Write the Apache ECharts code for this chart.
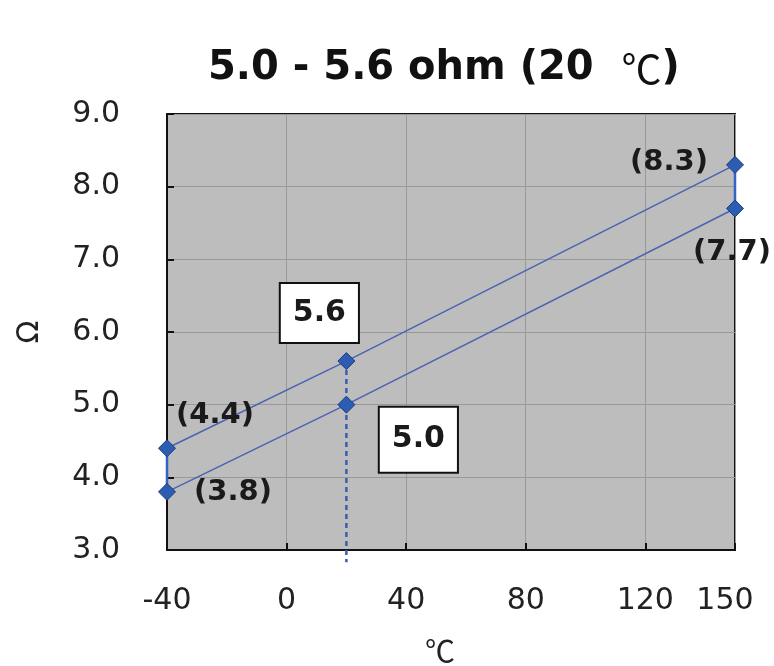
<!DOCTYPE html>
<html>
<head>
<meta charset="utf-8">
<title>5.0 - 5.6 ohm (20 ℃)</title>
<script src="https://cdn.jsdelivr.net/npm/echarts@6/dist/echarts.min.js"></script>
<style>
  html, body { margin: 0; padding: 0; background: #fff; }
  #content { width: 774px; height: 666px; }
</style>
</head>
<body>
<div id="content"></div>
<script>
// 数据
var temps = [-40, 20, 150];
var upperOhm = [4.4, 5.6, 8.3];
var lowerOhm = [3.8, 5.0, 7.7];
var upperLabels = ["(4.4)", "5.6", "(8.3)"];
var lowerLabels = ["(3.8)", "5.0", "(7.7)"];
var refTemp = 20;
var dashBottom = 2.83; // 虚线伸出到坐标轴下方
var xMin = -40, xMax = 150, xStep = 40;
var yMin = 3, yMax = 9, yStep = 1;

var font = "DejaVu Sans";
var lineColor = "#4a63b3";

// 标签的位置（相对数据点中心的偏移）
var upperOffsets = [[48, -33], [-27, -48], [-66, -2]];
var lowerOffsets = [[66, 1], [72, 35], [-3, 44]];

function plainLabel(text, offset) {
    return {
        show: true,
        position: "inside",
        offset: offset,
        formatter: text,
        fontFamily: font,
        fontSize: 29,
        fontWeight: "bold",
        color: "#1a1a1a",
    };
}

function boxLabel(text, offset, padV) {
    var l = plainLabel(text, offset);
    l.fontSize = 30;
    l.backgroundColor = "#fff";
    l.borderColor = "#111";
    l.borderWidth = 2;
    l.padding = [padV, 12, padV, 12];
    return l;
}

function buildPoints(vals, labels, offsets) {
    return temps.map(function(t, i) {
        var label = t == refTemp
            ? boxLabel(labels[i], offsets[i], vals === upperOhm ? 14 : 17)
            : plainLabel(labels[i], offsets[i]);
        return { value: [t, vals[i]], label: label };
    });
}

var markerStyle = {
    color: "#2d5db2",
    borderColor: "#1b3c7c",
    borderWidth: 1,
};

var series = [];
// 两端的竖线
[0, temps.length - 1].forEach(function(i) {
    series.push({
        type: "line",
        data: [[temps[i], lowerOhm[i]], [temps[i], upperOhm[i]]],
        symbol: "none",
        lineStyle: { color: "#3563c4", width: 2.5 },
        silent: true,
        z: 3,
    });
});
// 20℃ 的虚线
var refIdx = temps.indexOf(refTemp);
series.push({
    type: "line",
    data: [[refTemp, upperOhm[refIdx]], [refTemp, dashBottom]],
    symbol: "none",
    clip: false,
    lineStyle: { color: "#3a5db4", width: 2.5, type: [5, 4] },
    silent: true,
    z: 3,
});
// 上下两条线
series.push({
    type: "line",
    data: buildPoints(upperOhm, upperLabels, upperOffsets),
    symbol: "diamond",
    symbolSize: 17,
    itemStyle: markerStyle,
    lineStyle: { color: lineColor, width: 1.5 },
    z: 4,
});
series.push({
    type: "line",
    data: buildPoints(lowerOhm, lowerLabels, lowerOffsets),
    symbol: "diamond",
    symbolSize: 17,
    itemStyle: markerStyle,
    lineStyle: { color: lineColor, width: 1.5 },
    z: 4,
});

var myChart = echarts.init(document.getElementById("content"));
myChart.setOption({
    animation: false,
    title: {
        text: "5.0 - 5.6 ohm (20  {c|℃})",
        left: 203,
        top: 44,
        textStyle: {
            fontFamily: font,
            fontSize: 40,
            fontWeight: "bold",
            color: "#111",
            rich: {
                c: {
                    fontFamily: "Noto Sans CJK JP",
                    fontSize: 40,
                    fontWeight: "normal",
                    color: "#111",
                },
            },
        },
    },
    grid: {
        left: 167,
        right: 39,
        top: 114,
        bottom: 116,
        show: true,
        backgroundColor: "#bdbdbd",
        borderColor: "#111",
        borderWidth: 2,
        outerBoundsMode: "none",
    },
    xAxis: {
        type: "value",
        min: xMin,
        max: xMax,
        interval: xStep,
        name: "℃",
        nameLocation: "middle",
        nameGap: 86,
        nameTextStyle: {
            fontFamily: "Noto Sans CJK JP",
            fontSize: 30,
            color: "#222",
            padding: [0, 22, 0, 0],
        },
        axisLine: { show: true, onZero: false, lineStyle: { color: "#111", width: 2 } },
        axisTick: { show: true, inside: true, length: 7, lineStyle: { color: "#111", width: 2 } },
        axisLabel: {
            margin: 36,
            fontFamily: font,
            fontSize: 30,
            color: "#222",
            formatter: function(v) {
                return v == xMax ? "{r|" + v + "}" : String(v);
            },
            rich: {
                r: { fontFamily: font, fontSize: 30, color: "#222", padding: [0, 20, 0, 0] },
            },
        },
        splitLine: { show: true, lineStyle: { color: "#999", width: 1 } },
    },
    yAxis: {
        type: "value",
        min: yMin,
        max: yMax,
        interval: yStep,
        name: "Ω",
        nameLocation: "middle",
        nameRotate: 90,
        nameGap: 122,
        nameTextStyle: {
            fontFamily: font,
            fontSize: 30,
            color: "#222",
        },
        axisLine: { show: true, onZero: false, lineStyle: { color: "#111", width: 2 } },
        axisTick: { show: true, inside: true, length: 7, lineStyle: { color: "#111", width: 2 } },
        axisLabel: {
            margin: 47,
            fontFamily: font,
            fontSize: 30,
            color: "#222",
            formatter: function(v) { return v.toFixed(1); },
        },
        splitLine: { show: true, lineStyle: { color: "#999", width: 1 } },
    },
    series: series,
});
</script>
</body>
</html>
